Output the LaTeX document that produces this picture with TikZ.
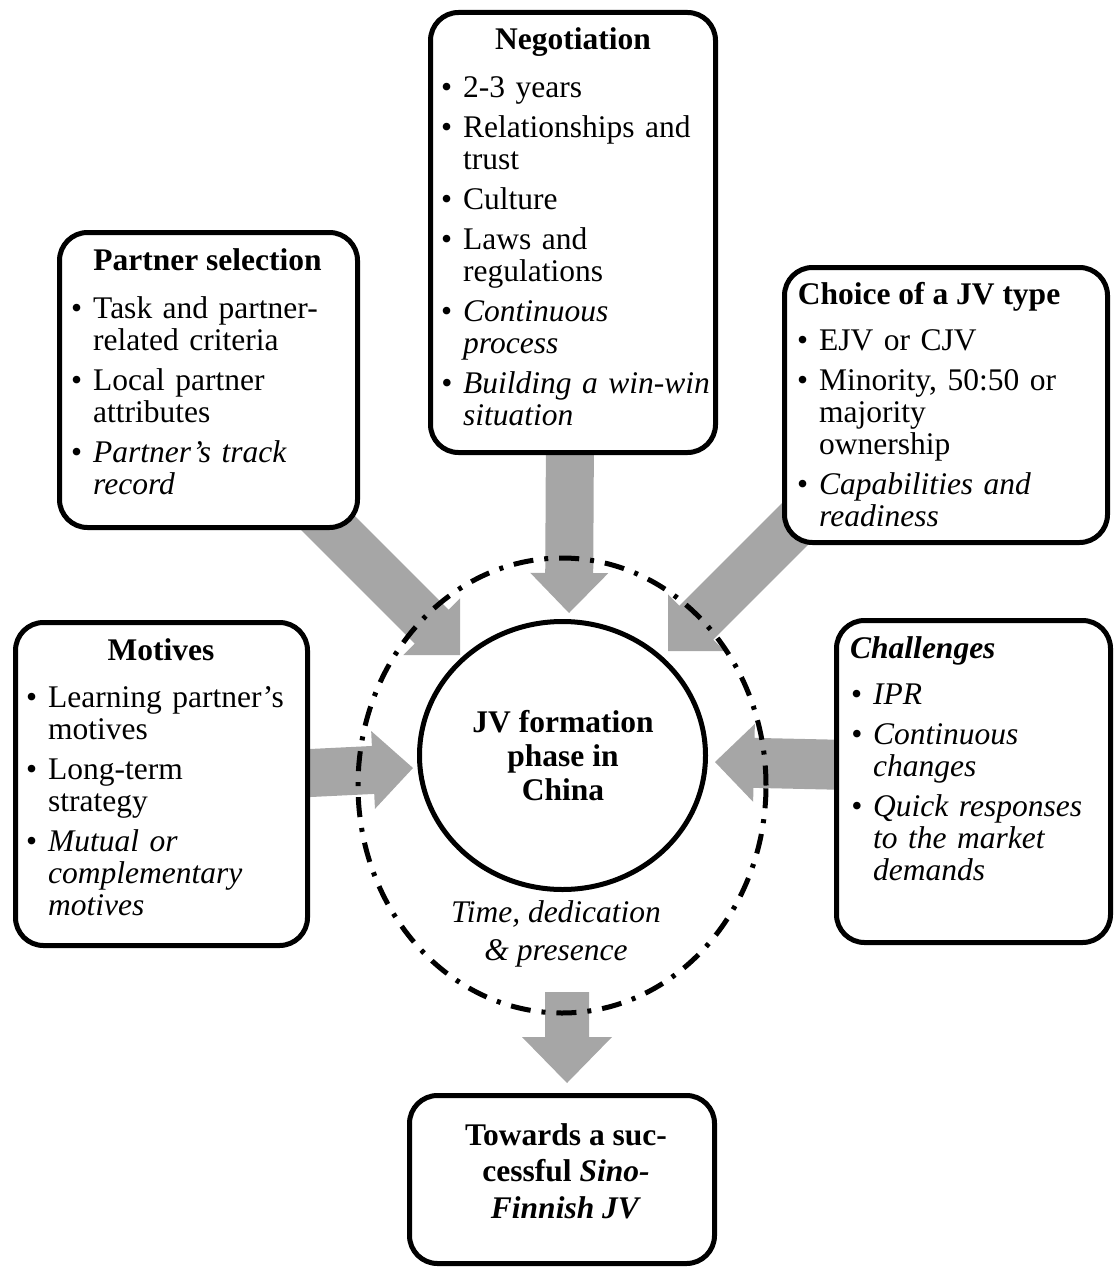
\documentclass[tikz,border=0pt]{standalone}
\usepackage{fontspec}
\setmainfont{Liberation Serif}
\usetikzlibrary{calc,shapes.geometric}
\pgfdeclarelayer{back}
\pgfsetlayers{back,main}
\definecolor{arrowgray}{HTML}{A6A6A6}

% bulleted entry with a hanging indent
\newlength\bulletw
\setlength\bulletw{22pt}
\newcommand\bitem[1]{\par\hangindent=\bulletw\hangafter=1\noindent\strut\hbox to\bulletw{\textbullet\hfil}#1}

% wide block arrow: tail, tip, half shaft width, half head width, head length
\newcommand\blockarrow[5]{%
  \coordinate (ba-m) at ($(#2)!#5!(#1)$);
  \fill[arrowgray] ($(#1)!#3!90:(#2)$) -- ($(ba-m)!#3!90:(#2)$) -- ($(ba-m)!#4!90:(#2)$)
    -- (#2) -- ($(ba-m)!#4!-90:(#2)$) -- ($(ba-m)!#3!-90:(#2)$) -- ($(#1)!#3!-90:(#2)$) -- cycle;}

\tikzset{
  panel/.style={draw, line width=5pt, rounded corners=28pt, fill=white, inner sep=0pt,
    outer sep=0pt, anchor=north west},
  paneltitle/.style={anchor=base, inner sep=0pt, font=\fontsize{31.5}{32}\selectfont\bfseries},
  panellist/.style={anchor=north west, inner sep=0pt, text width=320pt,
    font=\fontsize{31.5}{32}\selectfont},
  centretext/.style={inner sep=0pt, align=center, anchor=north},
  hub/.style={draw, ellipse, line width=5pt, inner sep=0pt, outer sep=0pt},
}

\begin{document}
\begin{tikzpicture}[x={(1pt,0pt)}, y={(0pt,-1pt)}]
\useasboundingbox (0,0) rectangle (1114,1268);

% panels
\node[panel, minimum width=285pt, minimum height=440pt] (neg) at (430.5,12.5) {};
\node[panel, minimum width=298pt, minimum height=295pt] (part) at (59.5,232.5) {};
\node[panel, minimum width=323pt, minimum height=275pt] (choice) at (784.5,267.5) {};
\node[panel, minimum width=292pt, minimum height=323pt] (mot) at (15.5,622.5) {};
\node[panel, minimum width=274pt, minimum height=322pt] (chal) at (836.5,620.5) {};
\node[panel, minimum width=305pt, minimum height=168pt] (goal) at (409.5,1095.5) {};

% central phase and its surrounding ring
\node[hub, minimum width=408pt, minimum height=455pt,
  dash pattern=on 20pt off 11pt on 4pt off 11pt] (ring) at (562,785.5) {};
\node[hub, fill=white, minimum width=286pt, minimum height=268pt] (jv) at (562.5,755.5) {};

% block arrows, behind everything else
\begin{pgfonlayer}{back}
  \coordinate (negTail) at (570,430);   \coordinate (negTip) at (569,613);
  \coordinate (partTail) at (300,495);  \coordinate (partTip) at (460,655);
  \coordinate (choiceTail) at (828,491);\coordinate (choiceTip) at (668,651);
  \coordinate (motTail) at (290,774);   \coordinate (motTip) at (413,768);
  \coordinate (chalTail) at (850,765);  \coordinate (chalTip) at (715,762);
  \coordinate (goalTail) at (567,992);  \coordinate (goalTip) at (567,1083);
  \blockarrow{negTail}{negTip}{24pt}{39pt}{40pt}
  \blockarrow{partTail}{partTip}{24pt}{40pt}{40pt}
  \blockarrow{choiceTail}{choiceTip}{24pt}{40pt}{40pt}
  \blockarrow{motTail}{motTip}{24pt}{39pt}{40pt}
  \blockarrow{chalTail}{chalTip}{25pt}{39pt}{39pt}
  \blockarrow{goalTail}{goalTip}{22pt}{45pt}{46pt}
\end{pgfonlayer}

% titles
\node[paneltitle] (negT) at (573,50) {Negotiation};
\node[paneltitle] (partT) at (207.5,270) {Partner selection};
\node[paneltitle] (choiceT) at (929,304) {Choice of a JV type};
\node[paneltitle] (motT) at (161,660) {Motives};
\node[paneltitle, anchor=base west] (chalT) at (850,658) {\itshape Challenges};

% lists
\node[panellist] (negL) at (441,57.6) {\setlength\parskip{8pt}%
  \bitem{2-3 years}
  \bitem{Relationships and\newline trust}
  \bitem{Culture}
  \bitem{Laws and\newline regulations}
  \bitem{\itshape Continuous\newline process}
  \bitem{\itshape Building a win-win\newline situation}\par};
\node[panellist] (partL) at (71,278.6) {\setlength\parskip{8pt}%
  \bitem{Task and partner-\newline related criteria}
  \bitem{Local partner\newline attributes}
  \bitem{\itshape Partner's track\newline record}\par};
\node[panellist] (choiceL) at (797,310.6) {\setlength\parskip{8pt}%
  \bitem{EJV or CJV}
  \bitem{Minority, 50:50 or\newline majority\newline ownership}
  \bitem{\itshape Capabilities and\newline readiness}\par};
\node[panellist] (motL) at (26,667.6) {\setlength\parskip{8pt}%
  \bitem{Learning partner’s\newline motives}
  \bitem{Long-term\newline strategy}
  \bitem{\itshape Mutual or\newline complementary\newline motives}\par};
\node[panellist] (chalL) at (851,664.6) {\setlength\parskip{8pt}%
  \bitem{\itshape IPR}
  \bitem{\itshape Continuous\newline changes}
  \bitem{\itshape Quick responses\newline to the market\newline demands}\par};

% centre texts
\node[centretext, font=\fontsize{31.5}{34}\selectfont\bfseries] (jvT) at (563,708.2)
  {\strut JV formation\\phase in\\China};
\node[centretext, font=\fontsize{31.5}{38}\selectfont\itshape] (timeT) at (556,896)
  {\strut Time, dedication\\\& presence};
\node[centretext, font=\fontsize{31.5}{36.5}\selectfont\bfseries] (goalT) at (566,1119.5)
  {\strut Towards a suc-\\cessful \textit{Sino-}\\\textit{Finnish JV}};
\end{tikzpicture}
\end{document}
